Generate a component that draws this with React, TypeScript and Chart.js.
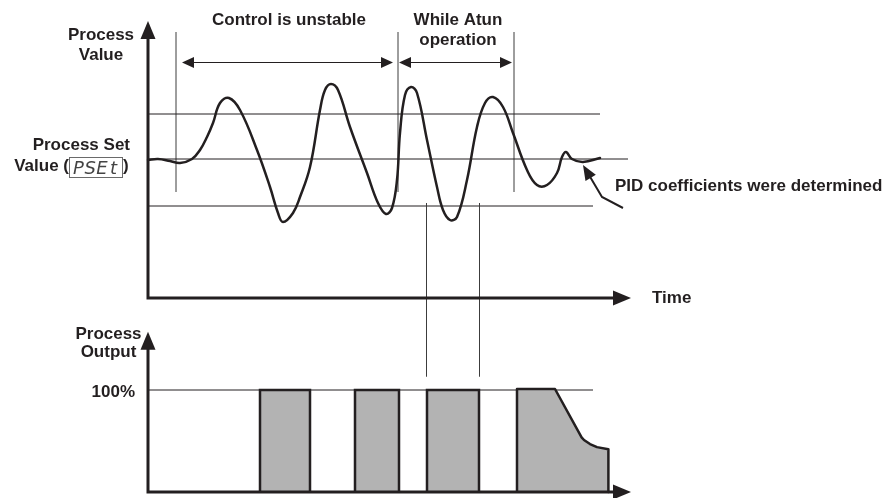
import React, { useEffect, useRef } from "react";
import { Chart, registerables } from "chart.js";

Chart.register(...registerables);

// ---------- DATA (time units, process-value units, output %) ----------
const pvTime = [
  0, 2.5, 5.5, 8, 11, 13, 14.75, 16.25, 18, 20.25, 23, 27.25, 30.5, 32.5, 33.75, 36.25, 38,
  40.5, 43, 44.25, 45.75, 47.5, 50.5, 54.75, 57.5, 59.5, 61, 62.25, 63, 64.25, 65.75, 67.25,
  69.75, 72.25, 73.75, 75.5, 77.25, 79.75, 82.25, 84.25, 86.25, 88.75, 91.25, 94.75, 97.25,
  99.75, 102.25, 103.5, 104.5, 106, 108.75, 113,
];
const pvValues = [
  69, 69.5, 68.5, 67.5, 69.5, 74, 80.5, 87.5, 97.5, 100, 94, 74, 55.5, 42.5, 38, 42.5, 50.5,
  65.5, 94, 104, 107, 104, 85.5, 62.5, 47.5, 42, 45, 59, 82.5, 101.5, 105.5, 102.5,
  79, 55.5, 44, 39, 40.5, 59, 85.5, 97.5, 100.5, 95.5, 82.5, 64, 56.5,
  56.5, 62.5, 70.5, 73, 69.5, 68, 70,
];

const bandLevels = [92, 69.5, 46]; // upper band, set value (PSEt), lower band
const bandEnds = [113, 120, 111.25];

const phaseMarks = [7, 62.5, 91.5];
const phaseMarkRange = [53, 133];

const guideTimes = [69.5, 82.75];
const guideTopPV = 47.5;
const guideBottomOutput = 113;

const pulseStart = [28, 51.75, 69.75];
const pulseEnd = [40.5, 62.75, 82.75];
const fullOutput = 100;
const fullOutputEnd = 111.25;

const finalOutputTime = [92.25, 92.25, 101.75, 108.4, 109, 110.5, 112.25, 115.1, 115.1];
const finalOutputValue = [0, 101, 101, 53.6, 51, 47, 44, 42, 0];

const timeAxisEnd = 120.75;
const pvAxisTop = 138.5;
const outputAxisTop = 157;

const unstableSpan = [8.5, 61.25];
const atunSpan = [62.75, 91];
const spanLevel = 118;

const pidArrowTime = [118.75, 113.5, 108.75];
const pidArrowPV = [45, 50.5, 66.5];

// ---------- LAYOUT ----------
const W = 894;
const H = 498;
const ORIGIN_X = 148; // px of time 0
const PX_PER_T = 4;
const PV_ZERO_Y = 298;
const PX_PER_PV = 2;
const OUT_ZERO_Y = 492;
const PX_PER_OUT = 1.02;

const INK = "#231f20";
const THIN = "#3c3c3c";
const FILL = "#b3b3b3";
const FONT = 'bold 17px "Liberation Sans", Arial, sans-serif';

const xMin = -ORIGIN_X / PX_PER_T;
const xMax = xMin + W / PX_PER_T;
const yMax = PV_ZERO_Y / PX_PER_PV;
const yMin = yMax - H / PX_PER_PV;
const oMax = OUT_ZERO_Y / PX_PER_OUT;
const oMin = oMax - H / PX_PER_OUT;

const pts = (xs: number[], ys: number[]) => xs.map((x, i) => ({ x, y: ys[i] }));

function head(ctx: CanvasRenderingContext2D, tx: number, ty: number, fx: number, fy: number, L: number, Wd: number) {
  const dx = tx - fx, dy = ty - fy;
  const len = Math.hypot(dx, dy) || 1;
  const ux = dx / len, uy = dy / len;
  const bx = tx - ux * L, by = ty - uy * L;
  ctx.beginPath();
  ctx.moveTo(tx, ty);
  ctx.lineTo(bx - uy * Wd, by + ux * Wd);
  ctx.lineTo(bx + uy * Wd, by - ux * Wd);
  ctx.closePath();
  ctx.fill();
}

function seg(ctx: CanvasRenderingContext2D, x1: number, y1: number, x2: number, y2: number) {
  ctx.beginPath();
  ctx.moveTo(x1, y1);
  ctx.lineTo(x2, y2);
  ctx.stroke();
}

const annotate = {
  id: "annotate",
  afterDatasetsDraw(chart: any) {
    const ctx: CanvasRenderingContext2D = chart.ctx;
    const X = (t: number) => chart.scales.x.getPixelForValue(t);
    const Y = (v: number) => chart.scales.y.getPixelForValue(v);
    const O = (v: number) => chart.scales.out.getPixelForValue(v);
    ctx.save();

    // guide lines from PV trough to output panel
    ctx.strokeStyle = THIN;
    ctx.lineWidth = 1;
    guideTimes.forEach((t) => seg(ctx, Math.round(X(t)) + 0.5, Y(guideTopPV), Math.round(X(t)) + 0.5, O(guideBottomOutput)));

    // axes
    ctx.strokeStyle = INK;
    ctx.fillStyle = INK;
    ctx.lineWidth = 3;
    ctx.lineJoin = "miter";
    const AL = 18, AW = 7.5;
    ctx.beginPath();
    ctx.moveTo(X(0), Y(pvAxisTop) + AL - 2);
    ctx.lineTo(X(0), Y(0));
    ctx.lineTo(X(timeAxisEnd) - AL + 2, Y(0));
    ctx.stroke();
    head(ctx, X(0), Y(pvAxisTop), X(0), Y(0), AL, AW);
    head(ctx, X(timeAxisEnd), Y(0), X(0), Y(0), AL, AW);
    ctx.beginPath();
    ctx.moveTo(X(0), O(outputAxisTop) + AL - 2);
    ctx.lineTo(X(0), O(0));
    ctx.lineTo(X(timeAxisEnd) - AL + 2, O(0));
    ctx.stroke();
    head(ctx, X(0), O(outputAxisTop), X(0), O(0), AL, AW);
    head(ctx, X(timeAxisEnd), O(0), X(0), O(0), AL, AW);

    // double arrows
    ctx.lineWidth = 1;
    const yS = Math.round(Y(spanLevel)) + 0.5;
    [unstableSpan, atunSpan].forEach(([a, b]) => {
      seg(ctx, X(a) + 8, yS, X(b) - 8, yS);
      head(ctx, X(a), yS, X(b), yS, 12, 5.5);
      head(ctx, X(b), yS, X(a), yS, 12, 5.5);
    });

    // PID arrow
    ctx.lineWidth = 2;
    ctx.beginPath();
    ctx.moveTo(X(pidArrowTime[0]), Y(pidArrowPV[0]));
    ctx.lineTo(X(pidArrowTime[1]), Y(pidArrowPV[1]));
    const tx = X(pidArrowTime[2]), ty = Y(pidArrowPV[2]);
    const fx = X(pidArrowTime[1]), fy = Y(pidArrowPV[1]);
    const len = Math.hypot(tx - fx, ty - fy);
    ctx.lineTo(tx - ((tx - fx) / len) * 10, ty - ((ty - fy) / len) * 10);
    ctx.stroke();
    head(ctx, tx, ty, fx, fy, 15, 6);

    // text
    ctx.font = FONT;
    ctx.fillStyle = INK;
    ctx.textBaseline = "alphabetic";
    ctx.textAlign = "center";
    ctx.fillText("Control is unstable", 289, 25);
    ctx.fillText("While Atun", 458, 25);
    ctx.fillText("operation", 458, 45);
    ctx.fillText("Process", 101, 40);
    ctx.fillText("Value", 101, 60);
    ctx.fillText("Process", 108.5, 339);
    ctx.fillText("Output", 108.5, 357);
    ctx.textAlign = "right";
    ctx.fillText("Process Set", 130, 150);
    ctx.fillText("Value (", 69, 171);
    ctx.fillText("100%", 135, 397);
    ctx.textAlign = "left";
    ctx.fillText(")", 123, 171);
    ctx.fillText("Time", 652, 303);
    ctx.fillText("PID coefficients were determined", 615, 191);

    // PSEt display box
    ctx.strokeStyle = "#6a6a6a";
    ctx.lineWidth = 1;
    ctx.strokeRect(69.5, 157.5, 53, 20);
    ctx.fillStyle = "#444";
    ctx.font = 'italic 18px "DejaVu Sans", sans-serif';
    ctx.textAlign = "center";
    const segChars = ["P", "S", "E", "t"];
    segChars.forEach((c, i) => ctx.fillText(c, 78.5 + i * 11.7, 174));

    ctx.restore();
  },
};

export default function App() {
  const ref = useRef<HTMLCanvasElement>(null);
  useEffect(() => {
    document.body.style.margin = "0";
    const lineDs = (data: any[], extra: any = {}) => ({
      data,
      yAxisID: "y",
      borderColor: INK,
      borderWidth: 1,
      pointRadius: 0,
      fill: false,
      tension: 0,
      ...extra,
    });
    const datasets: any[] = [];
    datasets.push(
      lineDs(pts(pvTime, pvValues), { borderWidth: 2.5, tension: 0.4, borderJoinStyle: "round", borderCapStyle: "round" })
    );
    bandLevels.forEach((lv, i) => datasets.push(lineDs([{ x: 0, y: lv }, { x: bandEnds[i], y: lv }])));
    phaseMarks.forEach((t) =>
      datasets.push(lineDs([{ x: t, y: phaseMarkRange[0] }, { x: t, y: phaseMarkRange[1] }], { borderColor: THIN }))
    );
    pulseStart.forEach((s, i) =>
      datasets.push(
        lineDs(
          [
            { x: s, y: 0 },
            { x: s, y: fullOutput },
            { x: pulseEnd[i], y: fullOutput },
            { x: pulseEnd[i], y: 0 },
          ],
          { yAxisID: "out", fill: "origin", backgroundColor: FILL, borderWidth: 2.5, borderJoinStyle: "miter" }
        )
      )
    );
    datasets.push(
      lineDs(pts(finalOutputTime, finalOutputValue), {
        yAxisID: "out",
        fill: "origin",
        backgroundColor: FILL,
        borderWidth: 2.5,
        borderJoinStyle: "round",
      })
    );
    datasets.push(lineDs([{ x: 0, y: fullOutput }, { x: fullOutputEnd, y: fullOutput }], { yAxisID: "out" }));

    const chart = new Chart(ref.current as HTMLCanvasElement, {
      type: "line",
      data: { datasets },
      options: {
        animation: false,
        responsive: false,
        devicePixelRatio: 1,
        layout: { padding: 0 },
        events: [],
        plugins: { legend: { display: false }, tooltip: { enabled: false } },
        scales: {
          x: { type: "linear", min: xMin, max: xMax, display: false },
          y: { type: "linear", min: yMin, max: yMax, display: false },
          out: { type: "linear", min: oMin, max: oMax, display: false },
        },
      },
      plugins: [annotate],
    } as any);
    return () => chart.destroy();
  }, []);
  return (
    <div style={{ position: "absolute", left: 0, top: 0, width: W, height: H, background: "#fff" }}>
      <canvas ref={ref} width={W} height={H} style={{ display: "block", width: W, height: H }} />
    </div>
  );
}
